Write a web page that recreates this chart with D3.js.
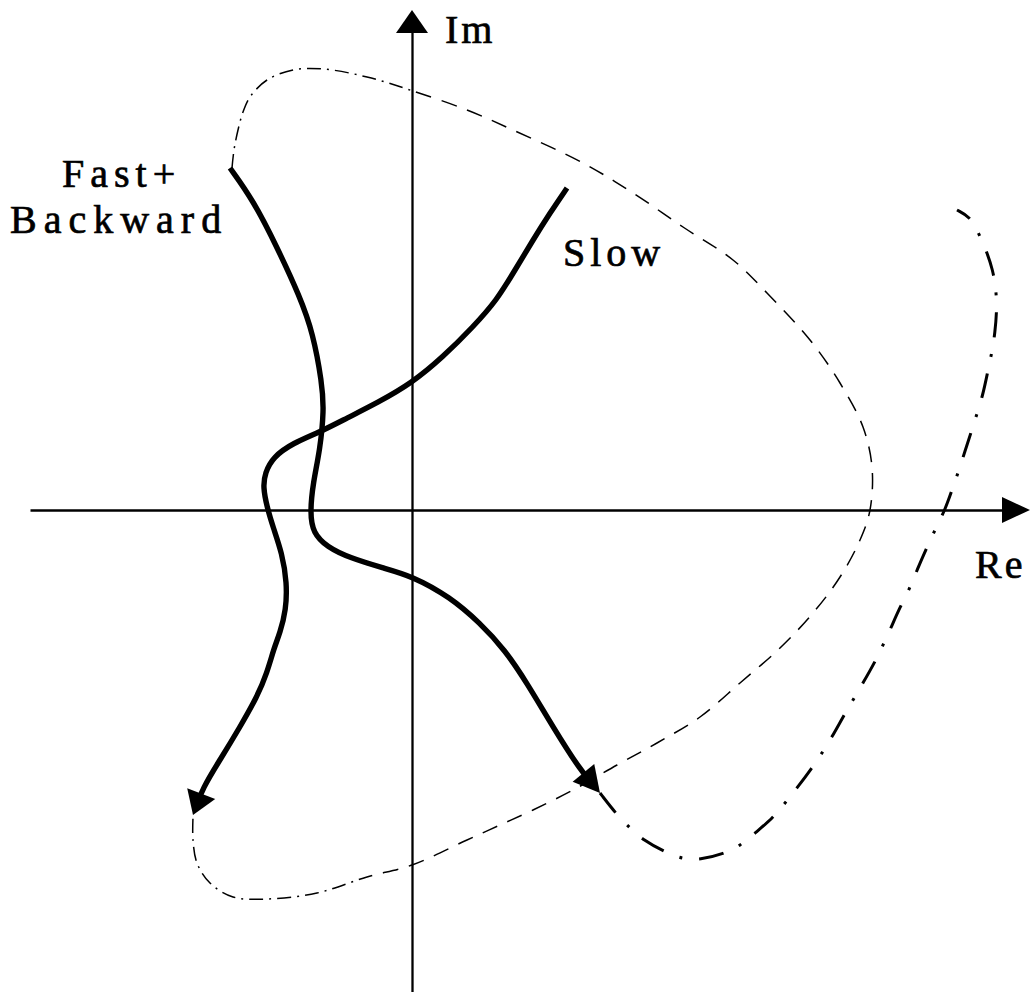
<!DOCTYPE html>
<html>
<head>
<meta charset="utf-8">
<script src="https://cdn.jsdelivr.net/npm/d3@7"></script>
<style>
  html, body { margin: 0; padding: 0; background: #fff; }
  svg { display: block; }
</style>
</head>
<body>
<script>
// Root-locus style sketch in the complex plane (Re, Im).

// Thick branch labelled "Fast+ Backward" (starts top-left, ends with an arrow).
const fastBackward = [
  [-1.82, 3.42], [-1.59, 3.10], [-1.35, 2.63], [-1.12, 2.13], [-0.99, 1.77],
  [-0.90, 1.27], [-0.88, 1.00], [-0.92, 0.60], [-0.99, 0.27], [-1.02, -0.03],
  [-0.99, -0.23], [-0.85, -0.37], [-0.62, -0.48], [-0.29, -0.58], [0.00, -0.66],
  [0.38, -0.87], [0.68, -1.13], [0.93, -1.40], [1.15, -1.73], [1.41, -2.17],
  [1.68, -2.60], [1.88, -2.83]
];

// Thick branch labelled "Slow".
const slow = [
  [1.55, 3.22], [1.38, 2.97], [1.21, 2.70], [1.03, 2.40], [0.85, 2.10],
  [0.61, 1.83], [0.31, 1.53], [0.00, 1.27], [-0.35, 1.07], [-0.65, 0.92],
  [-0.92, 0.78], [-1.19, 0.67], [-1.39, 0.53], [-1.47, 0.37], [-1.49, 0.23],
  [-1.45, 0.03], [-1.39, -0.17], [-1.30, -0.43], [-1.25, -0.73], [-1.26, -1.00],
  [-1.32, -1.23], [-1.38, -1.38], [-1.45, -1.63], [-1.55, -1.87], [-1.72, -2.17],
  [-1.92, -2.50], [-2.09, -2.77], [-2.19, -3.05]
];

// Thin dashed loop from the start of the fast branch round to the slow arrow.
const outerLoop = [
  [-1.80, 3.42], [-1.78, 3.60], [-1.74, 3.80], [-1.69, 3.98], [-1.62, 4.13],
  [-1.45, 4.30], [-1.19, 4.40], [-0.89, 4.41], [-0.45, 4.33], [0.01, 4.19],
  [0.55, 4.00], [1.01, 3.80], [1.71, 3.47], [2.21, 3.17], [2.71, 2.83],
  [3.21, 2.50], [3.55, 2.17], [3.98, 1.70], [4.28, 1.27], [4.51, 0.83],
  [4.60, 0.43], [4.58, 0.00], [4.48, -0.30], [4.28, -0.67], [4.01, -1.03],
  [3.68, -1.38], [3.28, -1.73], [2.88, -2.07], [2.45, -2.33], [2.05, -2.55],
  [1.61, -2.80], [1.21, -3.00], [0.88, -3.15], [0.55, -3.30], [0.00, -3.55],
  [-0.45, -3.67], [-0.95, -3.83], [-1.45, -3.89], [-1.79, -3.87], [-2.02, -3.73],
  [-2.15, -3.53], [-2.19, -3.30], [-2.19, -3.07]
];

// Dash-dot continuation from the fast arrow, swinging out past the Re axis.
const rightBranch = [
  [1.88, -2.83], [2.05, -3.05], [2.18, -3.18], [2.31, -3.30], [2.53, -3.42],
  [2.70, -3.49], [2.88, -3.50], [3.11, -3.44], [3.28, -3.36], [3.43, -3.23],
  [3.61, -3.08], [3.73, -2.93], [3.85, -2.78], [4.00, -2.58], [4.10, -2.43],
  [4.20, -2.27], [4.31, -2.07], [4.41, -1.90], [4.51, -1.73], [4.63, -1.52],
  [4.71, -1.35], [4.78, -1.20], [4.88, -0.97], [4.98, -0.78], [5.05, -0.60],
  [5.15, -0.37], [5.23, -0.20], [5.33, 0.00], [5.40, 0.20], [5.46, 0.37],
  [5.55, 0.65], [5.63, 0.90], [5.71, 1.15], [5.76, 1.40], [5.80, 1.58],
  [5.83, 1.77], [5.85, 2.02], [5.84, 2.20], [5.81, 2.40], [5.73, 2.63],
  [5.65, 2.80], [5.58, 2.93], [5.45, 3.00]
];

// Axis extents and labels.
const reExtent = [-3.82, 6.18];
const imExtent = [-4.82, 5.00];
const axisLabels = [
  { text: "Im", at: [0.33, 4.67], spacing: 3 },
  { text: "Re", at: [5.63, -0.68], spacing: 3 }
];
const branchLabels = [
  { text: "Fast+", at: [-3.50, 3.23], spacing: 6 },
  { text: "Backward", at: [-4.02, 2.77], spacing: 7 },
  { text: "Slow", at: [1.51, 2.44], spacing: 5 }
];

const W = 1030, H = 992;
const x = d3.scaleLinear().domain([-4.12, 6.18]).range([0, W]);
const y = d3.scaleLinear().domain([5.10, -4.82]).range([0, H]);

const svg = d3.select("body").append("svg")
  .attr("width", W).attr("height", H)
  .style("background", "#fff");

const smoothLine = d3.line()
  .x(d => x(d[0])).y(d => y(d[1]))
  .curve(d3.curveBasis);
const throughLine = d3.line()
  .x(d => x(d[0])).y(d => y(d[1]))
  .curve(d3.curveCatmullRom.alpha(0.5));

// ---- axes (domain lines only, no ticks) ----
const xAxisScale = d3.scaleLinear().domain([reExtent[0], 6.0]).range([x(reExtent[0]), x(6.0)]);
const yAxisScale = d3.scaleLinear().domain([imExtent[0], 4.85]).range([y(imExtent[0]), y(4.85)]);

const gx = svg.append("g")
  .attr("transform", `translate(0,${y(0)})`)
  .call(d3.axisBottom(xAxisScale).tickValues([]).tickSizeOuter(0));
const gy = svg.append("g")
  .attr("transform", `translate(${x(0)},0)`)
  .call(d3.axisLeft(yAxisScale).tickValues([]).tickSizeOuter(0));
[gx, gy].forEach(g => g.select(".domain")
  .attr("stroke", "#000").attr("stroke-width", 2.3));

// axis arrowheads
svg.append("path")
  .attr("d", `M${x(reExtent[1])},${y(0)} L${x(5.90)},${y(0) - 13} L${x(5.90)},${y(0) + 13} Z`)
  .attr("fill", "#000");
svg.append("path")
  .attr("d", `M${x(0)},${y(imExtent[1])} L${x(0) - 16},${y(4.77)} L${x(0) + 16},${y(4.77)} Z`)
  .attr("fill", "#000");

// ---- dashed loop: dash-dot near both ends, plain dashes in between ----
const loopPath = svg.append("path")
  .attr("d", throughLine(outerLoop))
  .attr("fill", "none")
  .attr("stroke", "#000")
  .attr("stroke-width", 1.5);
(function () {
  const L = loopPath.node().getTotalLength();
  const dashDot = [14, 6, 2, 6], dashed = [16, 11];
  const seq = [];
  let pos = 0;
  while (pos < L) {
    const pat = (pos < 250 || pos > L - 260) ? dashDot : dashed;
    for (const v of pat) { seq.push(v); pos += v; }
  }
  loopPath.attr("stroke-dasharray", seq.join(" "));
})();

// ---- dash-dot right branch ----
svg.append("path")
  .attr("d", smoothLine(rightBranch))
  .attr("fill", "none")
  .attr("stroke", "#000")
  .attr("stroke-width", 3)
  .attr("stroke-dasharray", "25 17 3 17");

// ---- thick branches with arrowheads ----
function arrowBranch(data, headLen, headHalf) {
  const p = svg.append("path")
    .attr("d", smoothLine(data))
    .attr("fill", "none")
    .attr("stroke", "#000")
    .attr("stroke-width", 5.4)
    .attr("stroke-linejoin", "round");
  const node = p.node();
  const L = node.getTotalLength();
  p.attr("stroke-dasharray", `${L - headLen * 0.6} ${L}`);
  const tip = node.getPointAtLength(L);
  const back = node.getPointAtLength(L - headLen);
  const dx = tip.x - back.x, dy = tip.y - back.y;
  const len = Math.hypot(dx, dy);
  const ux = dx / len, uy = dy / len;
  const bx = tip.x - ux * headLen, by = tip.y - uy * headLen;
  svg.append("path")
    .attr("d", `M${tip.x},${tip.y} L${bx - uy * headHalf},${by + ux * headHalf} L${bx + uy * headHalf},${by - ux * headHalf} Z`)
    .attr("fill", "#000");
}
arrowBranch(fastBackward, 26, 14);
arrowBranch(slow, 23, 15);

// ---- labels ----
const font = "'Liberation Serif', 'Times New Roman', serif";
function drawLabels(cls, rows) {
  svg.selectAll("text." + cls)
    .data(rows)
    .join("text")
    .attr("class", cls)
    .attr("x", d => x(d.at[0]))
    .attr("y", d => y(d.at[1]))
    .attr("font-family", font)
    .attr("font-size", 40)
    .style("letter-spacing", d => d.spacing + "px")
    .attr("fill", "#000")
    .attr("stroke", "#000")
    .attr("stroke-width", 0.7)
    .text(d => d.text);
}
drawLabels("axis-label", axisLabels);
drawLabels("branch-label", branchLabels);
</script>
</body>
</html>
